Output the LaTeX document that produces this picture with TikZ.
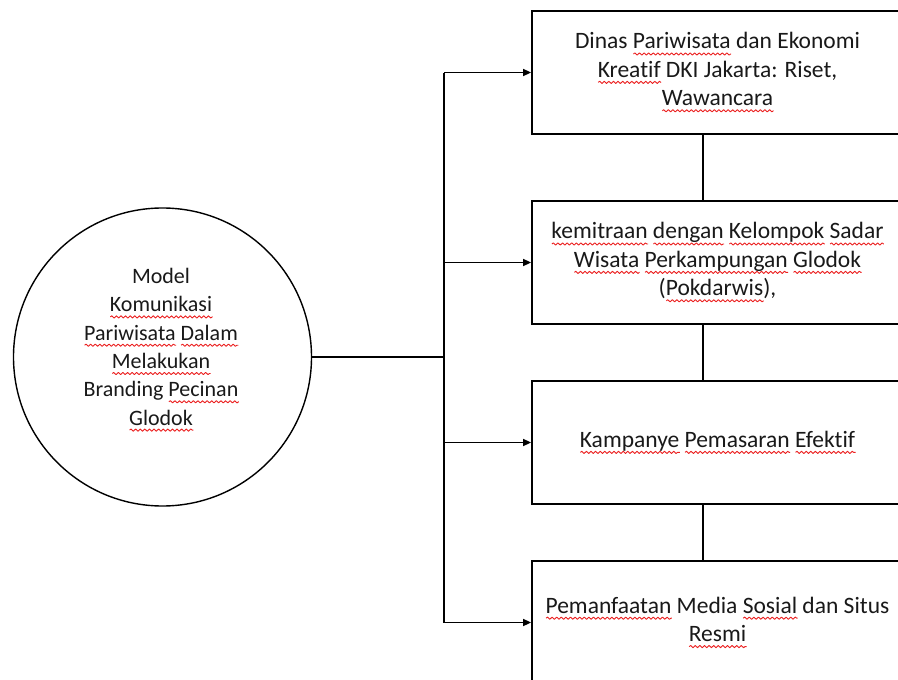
\documentclass[tikz,border=0pt]{standalone}
\usepackage{fontspec}
\setmainfont{Carlito}[RawFeature={-liga}]
\usetikzlibrary{arrows.meta,decorations.pathmorphing}
\definecolor{wavered}{rgb}{0.92,0.12,0.12}
\newcommand\sq[1]{\leavevmode\setbox0\hbox{#1}\rlap{\tikz[baseline=0pt]\draw[wavered,line width=0.9pt,line join=round,decorate,decoration={snake,amplitude=1.1pt,segment length=4.6pt}] (0pt,-5pt) -- (\wd0,-5pt);}\box0\relax}
\tikzset{
  txt/.style={font=\fontsize{23.5}{28.4}\selectfont, align=center, text=black!90},
  ctxt/.style={font=\fontsize{22}{28.3}\selectfont, align=center, text=black!90},
  box/.style={txt, draw, line width=1.8pt, minimum width=371pt, minimum height=123pt, inner sep=0pt},
  conn/.style={line width=1.6pt},
  arr/.style={conn, -{Triangle[length=8pt,width=7pt]}}
}
\begin{document}
\begin{tikzpicture}[x=1pt,y=-1pt]
\useasboundingbox (0,0) rectangle (898,680);
\node[draw, circle, line width=1.4pt, minimum size=298pt, inner sep=0pt] (c) at (162.5,357) {};
\node[ctxt] (ct) at (161,350) {Model\\ \sq{Komunikasi}\\ \sq{Pariwisata} \sq{Dalam}\\ \sq{Melakukan}\\ Branding \sq{Pecinan}\\ \sq{Glodok}};
\node[box] (b1) at (717.5,72.5) {Dinas \sq{Pariwisata} dan Ekonomi\\ \sq{Kreatif} DKI Jakarta: Riset,\\ \sq{Wawancara}};
\node[box] (b2) at (717.5,262.5) {\sq{kemitraan} \sq{dengan} \sq{Kelompok} \sq{Sadar}\\ \sq{Wisata} \sq{Perkampungan} \sq{Glodok}\\ (\sq{Pokdarwis}),};
\node[box] (b3) at (717.5,442.5) {\sq{Kampanye} \sq{Pemasaran} \sq{Efektif}};
\node[box] (b4) at (717.5,622.5) {\sq{Pemanfaatan} Media \sq{Sosial} dan Situs\\ \sq{Resmi}};
\coordinate (j) at (444,357);
\draw[conn] (c.east) -- (j);
\draw[conn] (j |- b1.west) -- (j |- b4.west);
\foreach \b in {b1,b2,b3,b4} \draw[arr] (j |- \b.west) -- (\b.west);
\draw[conn] ([xshift=-14.5pt]b1.south) -- ([xshift=-14.5pt]b2.north);
\draw[conn] ([xshift=-14.5pt]b2.south) -- ([xshift=-14.5pt]b3.north);
\draw[conn] ([xshift=-14.5pt]b3.south) -- ([xshift=-14.5pt]b4.north);
\end{tikzpicture}
\end{document}
